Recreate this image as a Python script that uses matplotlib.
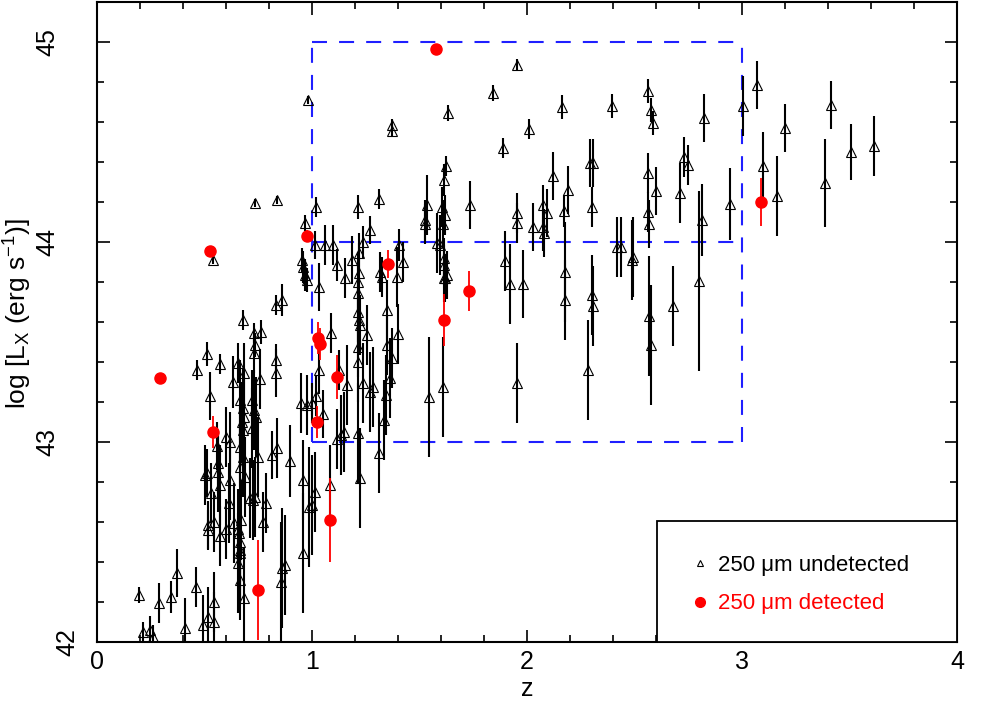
import matplotlib
matplotlib.use("Agg")
import matplotlib.pyplot as plt
from matplotlib.lines import Line2D
from matplotlib.patches import Rectangle
from matplotlib.transforms import ScaledTranslation

plt.rcParams['font.family'] = ['Liberation Sans', 'DejaVu Sans']
plt.rcParams['mathtext.fontset'] = 'custom'
plt.rcParams['mathtext.rm'] = 'Liberation Sans'
plt.rcParams['mathtext.it'] = 'Liberation Sans:italic'

# 250 um undetected sources: redshift, log Lx, error
und = [
    (0.980, 44.710, 0.02), (1.370, 44.585, 0.03), (1.370, 44.555, 0.03),
    (0.735, 44.195, 0.02), (0.837, 44.210, 0.02), (1.019, 44.175, 0.05),
    (1.214, 44.175, 0.06), (1.312, 44.215, 0.05), (0.967, 44.095, 0.04),
    (1.270, 44.060, 0.07), (1.014, 43.985, 0.07), (1.060, 43.985, 0.10),
    (1.098, 43.985, 0.10), (1.237, 44.000, 0.08), (1.405, 43.985, 0.08),
    (0.540, 43.910, 0.02), (0.953, 43.910, 0.06), (0.958, 43.875, 0.08),
    (0.967, 43.835, 0.08), (0.977, 43.810, 0.06), (1.116, 43.885, 0.08),
    (1.153, 43.820, 0.10), (1.186, 43.910, 0.12), (1.220, 43.945, 0.10),
    (1.220, 43.845, 0.15), (1.214, 43.800, 0.15), (1.214, 43.745, 0.15),
    (1.214, 43.650, 0.15), (1.220, 43.610, 0.15), (1.223, 43.585, 0.15),
    (1.316, 43.850, 0.10), (1.325, 43.825, 0.10), (1.395, 43.825, 0.15),
    (1.423, 43.900, 0.10), (1.033, 43.775, 0.12), (1.349, 43.660, 0.15),
    (0.833, 43.685, 0.05), (0.860, 43.710, 0.08), (0.679, 43.610, 0.05),
    (0.730, 43.545, 0.05), (0.763, 43.550, 0.06), (0.735, 43.485, 0.06),
    (0.730, 43.445, 0.10), (0.512, 43.440, 0.06), (0.572, 43.390, 0.05),
    (0.656, 43.395, 0.10), (0.465, 43.360, 0.05), (0.684, 43.345, 0.15),
    (0.758, 43.315, 0.15), (0.833, 43.410, 0.08), (0.833, 43.345, 0.12),
    (0.633, 43.300, 0.13), (0.526, 43.230, 0.12), (0.665, 43.210, 0.20),
    (0.679, 43.170, 0.20), (0.684, 43.125, 0.20), (0.679, 43.060, 0.20),
    (0.674, 43.100, 0.20), (0.721, 43.210, 0.15), (0.730, 43.160, 0.20),
    (0.740, 43.125, 0.20), (0.721, 43.070, 0.20), (0.949, 43.195, 0.15),
    (0.977, 43.185, 0.15), (1.000, 43.195, 0.10), (1.019, 43.230, 0.10),
    (1.050, 43.140, 0.12), (1.033, 43.360, 0.12), (1.126, 43.360, 0.10),
    (1.163, 43.285, 0.20), (1.237, 43.295, 0.20), (1.284, 43.275, 0.20),
    (1.270, 43.250, 0.20), (1.344, 43.235, 0.20), (1.372, 43.420, 0.15),
    (1.363, 43.320, 0.20), (1.349, 43.485, 0.15), (1.214, 43.475, 0.15),
    (1.214, 43.400, 0.20), (1.256, 43.535, 0.15), (1.088, 43.545, 0.10),
    (1.400, 43.540, 0.15), (1.335, 43.110, 0.20), (1.149, 43.050, 0.20),
    (1.116, 43.015, 0.15), (1.135, 43.035, 0.20), (1.214, 43.045, 0.25),
    (1.312, 42.945, 0.20), (1.223, 42.820, 0.25), (0.958, 42.810, 0.20),
    (1.014, 42.750, 0.20), (1.000, 42.685, 0.25), (0.986, 42.675, 0.30),
    (1.084, 42.785, 0.20), (0.958, 42.445, 0.30), (0.860, 42.370, 0.30),
    (0.874, 42.385, 0.25), (0.856, 42.300, 0.30), (0.684, 42.220, 0.25),
    (0.512, 42.845, 0.12), (0.530, 42.745, 0.15), (0.558, 42.980, 0.12),
    (0.563, 42.895, 0.15), (0.563, 42.850, 0.20), (0.572, 42.785, 0.20),
    (0.619, 43.000, 0.15), (0.600, 43.025, 0.15), (0.619, 42.810, 0.20),
    (0.614, 42.695, 0.20), (0.516, 42.585, 0.12), (0.516, 42.560, 0.10),
    (0.544, 42.600, 0.15), (0.572, 42.530, 0.15), (0.600, 42.565, 0.15),
    (0.637, 42.595, 0.20), (0.656, 42.565, 0.20), (0.665, 42.500, 0.20),
    (0.665, 42.445, 0.25), (0.670, 42.610, 0.20), (0.660, 42.545, 0.20),
    (0.665, 42.460, 0.25), (0.656, 42.395, 0.25), (0.665, 42.310, 0.20),
    (0.688, 42.825, 0.20), (0.679, 42.925, 0.20), (0.665, 42.975, 0.20),
    (0.665, 42.875, 0.20), (0.749, 42.925, 0.20), (0.726, 42.710, 0.20),
    (0.735, 42.725, 0.20), (0.712, 42.720, 0.20), (0.786, 42.695, 0.15),
    (0.772, 42.600, 0.15), (0.814, 42.935, 0.12), (0.837, 42.970, 0.15),
    (0.898, 42.905, 0.18), (0.460, 42.275, 0.10), (0.372, 42.345, 0.12),
    (0.344, 42.225, 0.08), (0.288, 42.195, 0.10), (0.195, 42.235, 0.04),
    (0.214, 42.050, 0.05), (0.247, 42.060, 0.07), (0.260, 42.025, 0.06),
    (0.409, 42.070, 0.15), (0.493, 42.085, 0.15), (0.516, 42.125, 0.15),
    (0.544, 42.100, 0.15), (0.544, 42.200, 0.15), (0.502, 42.835, 0.15),
    (1.526, 44.090, 0.10), (1.609, 44.090, 0.12), (1.614, 43.885, 0.10),
    (1.619, 43.820, 0.12), (1.609, 43.275, 0.25), (1.544, 43.225, 0.30),
    (1.953, 44.885, 0.03), (1.842, 44.745, 0.04), (1.633, 44.645, 0.04),
    (2.163, 44.675, 0.06), (2.395, 44.680, 0.06), (2.563, 44.755, 0.06),
    (2.577, 44.660, 0.06), (2.586, 44.595, 0.06), (2.009, 44.565, 0.05),
    (1.888, 44.470, 0.05), (1.623, 44.380, 0.05), (1.614, 44.310, 0.08),
    (2.121, 44.330, 0.12), (2.293, 44.395, 0.12), (2.307, 44.395, 0.12),
    (2.730, 44.425, 0.10), (2.749, 44.385, 0.10), (2.563, 44.345, 0.10),
    (2.190, 44.260, 0.12), (2.600, 44.255, 0.12), (2.712, 44.245, 0.15),
    (1.535, 44.185, 0.15), (1.526, 44.110, 0.10), (1.605, 44.175, 0.10),
    (1.619, 44.135, 0.10), (1.735, 44.185, 0.12), (1.953, 44.145, 0.10),
    (1.953, 44.095, 0.10), (2.074, 44.185, 0.10), (2.093, 44.145, 0.12),
    (2.074, 44.075, 0.12), (2.079, 44.045, 0.12), (2.028, 44.075, 0.12),
    (2.172, 44.155, 0.08), (2.302, 44.175, 0.10), (2.563, 44.150, 0.10),
    (2.567, 44.090, 0.12), (2.814, 44.110, 0.18), (1.581, 43.995, 0.15),
    (1.595, 43.985, 0.15), (1.614, 43.920, 0.10), (1.614, 43.820, 0.12),
    (1.628, 43.835, 0.12), (1.898, 43.905, 0.15), (1.921, 43.790, 0.20),
    (1.981, 43.790, 0.17), (2.177, 43.850, 0.25), (2.177, 43.710, 0.20),
    (2.302, 43.735, 0.20), (2.307, 43.680, 0.20), (2.419, 43.975, 0.15),
    (2.437, 43.975, 0.15), (2.493, 43.925, 0.20), (2.488, 43.910, 0.20),
    (2.567, 43.630, 0.30), (2.577, 43.485, 0.30), (2.679, 43.680, 0.20),
    (2.800, 43.805, 0.45), (1.953, 43.295, 0.20), (2.284, 43.360, 0.25),
    (3.070, 44.785, 0.12), (3.005, 44.680, 0.15), (2.823, 44.620, 0.12),
    (3.414, 44.685, 0.12), (3.200, 44.570, 0.12), (3.614, 44.480, 0.15),
    (3.507, 44.450, 0.14), (3.098, 44.380, 0.17), (3.386, 44.295, 0.22),
    (3.163, 44.230, 0.20), (2.944, 44.190, 0.18),
]
und_z = [p[0] for p in und]
und_lx = [p[1] for p in und]
und_err = [p[2] for p in und]

# 250 um detected sources
det_z = [0.293, 0.526, 0.540, 0.749, 0.977, 1.030, 1.035, 1.023, 1.084, 1.116, 1.353, 1.577, 1.614, 1.730, 3.088]
det_lx = [43.32, 43.955, 43.05, 42.26, 44.03, 43.52, 43.49, 43.10, 42.61, 43.325, 43.89, 44.965, 43.61, 43.755, 44.20]
det_err = [0.0, 0.0, 0.08, 0.25, 0.03, 0.08, 0.08, 0.08, 0.21, 0.11, 0.07, 0.0, 0.13, 0.10, 0.12]

# selection box
box_z = [1, 3]
box_lx = [43, 44, 45]

fig = plt.figure(figsize=(9.85, 7.08), dpi=100)
ax = fig.add_axes([0.0985, 0.0932, 0.873, 0.904])

blue = '#1f1fff'
for y in box_lx:
    ax.plot(box_z, [y, y], color=blue, lw=1.5, dashes=(7.2, 5.8), zorder=1)
for x in box_z:
    ax.plot([x, x], [box_lx[0], box_lx[-1]], color=blue, lw=1.5, dashes=(7.2, 5.8), zorder=1)

ax.errorbar(und_z, und_lx, yerr=und_err, fmt='none', ecolor='black', elinewidth=1.5, capsize=0, zorder=2)
ax.plot(und_z, und_lx, ls='none', marker='^', ms=6.5, mfc='none', mec='black', mew=0.8, zorder=3)

ax.errorbar(det_z, det_lx, yerr=det_err, fmt='none', ecolor='red', elinewidth=1.3, capsize=0, zorder=4)
ax.plot(det_z, det_lx, ls='none', marker='o', ms=8, color='red', mec='red', zorder=5)

ax.set_xlim(0, 4)
ax.set_ylim(42, 45.2)
ax.set_xticks([0, 1, 2, 3, 4])
ax.set_yticks([42, 43, 44, 45])
ax.set_xticks([i * 0.2 for i in range(21)], minor=True)
ax.set_yticks([42 + i * 0.2 for i in range(17)], minor=True)
ax.tick_params(which='both', direction='in', top=True, right=True, width=1.2, labelsize=18)
ax.tick_params(which='major', length=9)
ax.tick_params(which='minor', length=5)
ax.tick_params(axis='x', pad=6)
ax.tick_params(axis='y', labelrotation=90, pad=27)
for lab in ax.get_yticklabels():
    lab.set_va('center')
# bottom y label sits closer to the axis
lab42 = ax.yaxis.get_major_ticks()[0].label1
lab42.set_transform(lab42.get_transform() + ScaledTranslation(0.2, 0, fig.dpi_scale_trans))
for s in ax.spines.values():
    s.set_linewidth(1.5)

ax.set_xlabel('z', fontsize=18, labelpad=2)
ax.set_ylabel(r'log [L$_\mathrm{X}$ (erg s$^{-1}$)]', fontsize=19)
ax.yaxis.set_label_coords(-0.073, 0.513)

# legend frame in the lower right corner
ax.add_patch(Rectangle((0.651, 0), 0.349, 0.189, transform=ax.transAxes,
                       facecolor='white', edgecolor='black', lw=1.3, zorder=6))
handles = [
    Line2D([], [], ls='none', marker='^', ms=5, mfc='none', mec='black', mew=0.8),
    Line2D([], [], ls='none', marker='o', ms=7, color='red'),
]
leg = ax.legend(handles, ['250 \u03bcm undetected', '250 \u03bcm detected'],
                loc='center left', bbox_to_anchor=(0.6907, 0.09), borderaxespad=0,
                borderpad=0, frameon=False, fontsize=16, handlelength=0.8,
                handletextpad=0.43, labelspacing=0.8, labelcolor=['black', 'red'])
leg.set_zorder(7)

fig.savefig('out.png', dpi=100)
